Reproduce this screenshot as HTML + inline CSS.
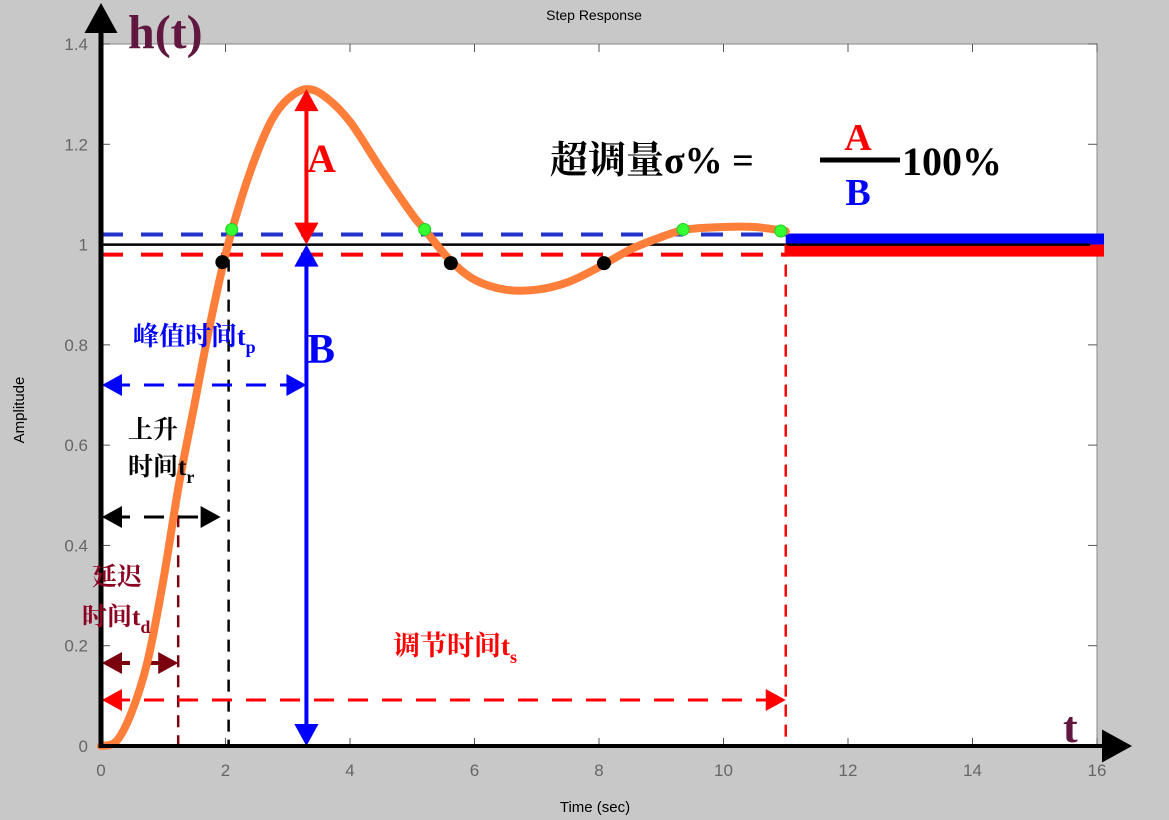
<!DOCTYPE html>
<html><head><meta charset="utf-8"><style>
body{margin:0;background:#c8c8c8;}
svg{display:block;font-family:"Liberation Sans","Noto Sans CJK SC",sans-serif;}
.cn{font-family:"Liberation Serif","Noto Serif CJK SC","Noto Sans CJK SC",serif;font-weight:bold;}
</style></head><body>
<svg id="c" width="1169" height="820" viewBox="0 0 1169 820">
<rect x="0" y="0" width="1169" height="820" fill="#c8c8c8"/>
<g id="plot"></g>
</svg>
<script>
const tKnots=[0,0.25,0.5,0.75,1,1.25,1.5,1.75,2,2.25,2.5,2.75,3,3.3,3.6,4,4.5,5,5.2,5.6,6,6.5,7,7.5,8,8.5,9,9.4,10,10.5,11];
const hVals=[0,0.01,0.07,0.17,0.33,0.52,0.68,0.84,0.98,1.09,1.18,1.25,1.29,1.31,1.295,1.245,1.15,1.06,1.03,0.97,0.93,0.91,0.91,0.925,0.955,0.99,1.015,1.03,1.035,1.035,1.027];
const xTicks=[0,2,4,6,8,10,12,14,16];
const yTicks=[0,0.2,0.4,0.6,0.8,1,1.2,1.4];
const blackDots=[[1.95,0.965],[5.62,0.963],[8.08,0.963]];
const greenDots=[[2.1,1.03],[5.2,1.03],[9.35,1.03],[10.92,1.027]];
const tDelay=1.24,tRise=2.05,tPeak=3.3,tSettle=11.0,peakVal=1.31,bandHi=1.02,bandLo=0.98;

const X=t=>101+t*(996/16), Y=v=>746-v*(702/1.4);
const NS='http://www.w3.org/2000/svg', g=document.getElementById('plot');
function mk(tag,a,txt){const e=document.createElementNS(NS,tag);for(const k in a)e.setAttribute(k,a[k]);if(txt!=null)e.textContent=txt;g.appendChild(e);return e;}

let e=mk('rect',{x:101,y:44,width:996,height:702,fill:'#fff',stroke:'#888','stroke-width':1});


e=mk('text',{x:594,y:20,'font-size':14,'text-anchor':'middle',fill:'#000'},'Step Response');


e=mk('text',{x:595,y:812,'font-size':15,'text-anchor':'middle',fill:'#000'},'Time (sec)');


e=mk('text',{x:24,y:410,'font-size':15,'text-anchor':'middle',fill:'#000',transform:'rotate(-90 24 410)'},'Amplitude');


xTicks.forEach(t=>{
 e=mk('line',{x1:X(t),x2:X(t),y1:746,y2:738,stroke:'#555'});
 
 
 e=mk('line',{x1:X(t),x2:X(t),y1:44,y2:52,stroke:'#555'});
 
 
 e=mk('text',{x:X(t),y:776,'font-size':17,'text-anchor':'middle',fill:'#666'},String(t));
 
 
});
yTicks.forEach(v=>{
 e=mk('line',{x1:101,x2:110,y1:Y(v),y2:Y(v),stroke:'#555'});
 
 
 e=mk('line',{x1:1088,x2:1097,y1:Y(v),y2:Y(v),stroke:'#555'});
 
 
 e=mk('text',{x:88,y:Y(v)+6,'font-size':17,'text-anchor':'end',fill:'#666'},String(v));
 
 
});
e=mk('line',{x1:101,x2:X(tSettle),y1:Y(bandHi),y2:Y(bandHi),stroke:'#2233cc','stroke-width':4,'stroke-dasharray':'22 18'});


e=mk('line',{x1:101,x2:X(tSettle),y1:Y(bandLo),y2:Y(bandLo),stroke:'#f00','stroke-width':4,'stroke-dasharray':'22 18'});


e=mk('rect',{x:X(tSettle),y:Y(bandHi)-1,width:1104-X(tSettle),height:Y(1)-Y(bandHi)+1,fill:'#00f'});


e=mk('rect',{x:X(tSettle),y:Y(1),width:1104-X(tSettle),height:Y(bandLo)-Y(1)+2,fill:'#f00'});


e=mk('line',{x1:101,x2:1090,y1:Y(1),y2:Y(1),stroke:'#000','stroke-width':2.5});


e=mk('line',{x1:X(tDelay),x2:X(tDelay),y1:Y(0.5),y2:746,stroke:'#7a0010','stroke-width':2.5,'stroke-dasharray':'12 8'});


e=mk('line',{x1:X(tRise),x2:X(tRise),y1:Y(0.97),y2:746,stroke:'#000','stroke-width':2.5,'stroke-dasharray':'12 8'});


e=mk('line',{x1:X(tSettle),x2:X(tSettle),y1:Y(1),y2:746,stroke:'#f00','stroke-width':2.5,'stroke-dasharray':'12 8'});


function arrowHead(x,y,dir,col,s){s=s||14;let p;
 if(dir==='r')p=`M${x},${y}L${x-s},${y-s*0.55}L${x-s},${y+s*0.55}z`;
 if(dir==='l')p=`M${x},${y}L${x+s},${y-s*0.55}L${x+s},${y+s*0.55}z`;
 if(dir==='u')p=`M${x},${y}L${x-s*0.55},${y+s}L${x+s*0.55},${y+s}z`;
 if(dir==='d')p=`M${x},${y}L${x-s*0.55},${y-s}L${x+s*0.55},${y-s}z`;
 const a=mk('path',{d:p,fill:col});
 
 }
function hArrow(x1,x2,y,col,name,w){const l=mk('line',{x1:x1+8,x2:x2-8,y1:y,y2:y,stroke:col,'stroke-width':w||3,'stroke-dasharray':'20 14'});
 
 
 arrowHead(x1,y,'l',col,20);arrowHead(x2,y,'r',col,20);}
hArrow(102,X(tPeak),385,'#00f','peak-time-arrow');
hArrow(102,X(tRise)-8,517,'#000','rise-time-arrow');
hArrow(102,X(tDelay),663,'#7a0010','delay-time-arrow',4);
hArrow(102,X(tSettle),700,'#f00','settling-time-arrow');
e=mk('line',{x1:X(tPeak),x2:X(tPeak),y1:Y(1)+10,y2:736,stroke:'#00f','stroke-width':4});


arrowHead(X(tPeak),Y(1),'u','#00f',22);arrowHead(X(tPeak),746,'d','#00f',22);
let pts=tKnots.map((t,i)=>[X(t),Y(hVals[i])]);
let d=`M${pts[0][0]},${pts[0][1]}`;
for(let i=0;i<pts.length-1;i++){const p0=pts[Math.max(0,i-1)],p1=pts[i],p2=pts[i+1],p3=pts[Math.min(pts.length-1,i+2)];
 d+=`C${p1[0]+(p2[0]-p0[0])/6},${p1[1]+(p2[1]-p0[1])/6} ${p2[0]-(p3[0]-p1[0])/6},${p2[1]-(p3[1]-p1[1])/6} ${p2[0]},${p2[1]}`;}
e=mk('path',{d:d,fill:'none',stroke:'#ff7f3a','stroke-width':8,'stroke-linecap':'round'});


e=mk('line',{x1:X(tPeak),x2:X(tPeak),y1:Y(peakVal)+12,y2:Y(1)-12,stroke:'#f00','stroke-width':4});


arrowHead(X(tPeak),Y(peakVal),'u','#f00',22);arrowHead(X(tPeak),Y(1),'d','#f00',22);
blackDots.forEach(p=>{e=mk('circle',{cx:X(p[0]),cy:Y(p[1]),r:7,fill:'#000'});
 
 });
greenDots.forEach(p=>{e=mk('circle',{cx:X(p[0]),cy:Y(p[1]),r:6,fill:'#3f3',stroke:'#2c2'});
 
 });
e=mk('line',{x1:101,x2:101,y1:748,y2:20,stroke:'#000','stroke-width':5});


arrowHead(101,3,'u','#000',30);
e=mk('line',{x1:99,x2:1110,y1:746,y2:746,stroke:'#000','stroke-width':4});


arrowHead(1132,746,'r','#000',30);
function txt(x,y,s,size,col,name,extra){const t=mk('text',Object.assign({x:x,y:y,'font-size':size,fill:col,class:'cn'},extra||{}));t.innerHTML=s;
 
 return t;}
txt(128,48,'h(t)',48,'#601840','y-axis-symbol');
txt(1063,742,'t',44,'#601840','x-axis-symbol');
txt(133,345,'峰值时间t<tspan font-size="18" dy="8">p</tspan>',26,'#00f','peak-time-label');
txt(307,363,'B',42,'#00f','b-label');
txt(307,172,'A',40,'#f00','a-label');
txt(128,438,'上升',25,'#000','rise-label-1',{'font-weight':'normal'});
txt(128,475,'时间t<tspan font-size="18" dy="8">r</tspan>',25,'#000','rise-label-2');
txt(92,585,'延迟',25,'#8b0020','delay-label-1',{'font-weight':'normal'});
txt(82,625,'时间t<tspan font-size="18" dy="8">d</tspan>',25,'#8b0020','delay-label-2');
txt(393,655,'调节时间t<tspan font-size="18" dy="8">s</tspan>',27,'#f00','settling-label');
txt(550,173,'超调量σ% =',38,'#000','overshoot-formula');
e=mk('line',{x1:820,x2:900,y1:160,y2:160,stroke:'#000','stroke-width':5});


txt(858,150,'A',38,'#f00','fraction-a',{'text-anchor':'middle'});
txt(858,205,'B',38,'#00f','fraction-b',{'text-anchor':'middle'});
txt(902,175,'100%',40,'#000','formula-percent');
</script>
</body></html>
